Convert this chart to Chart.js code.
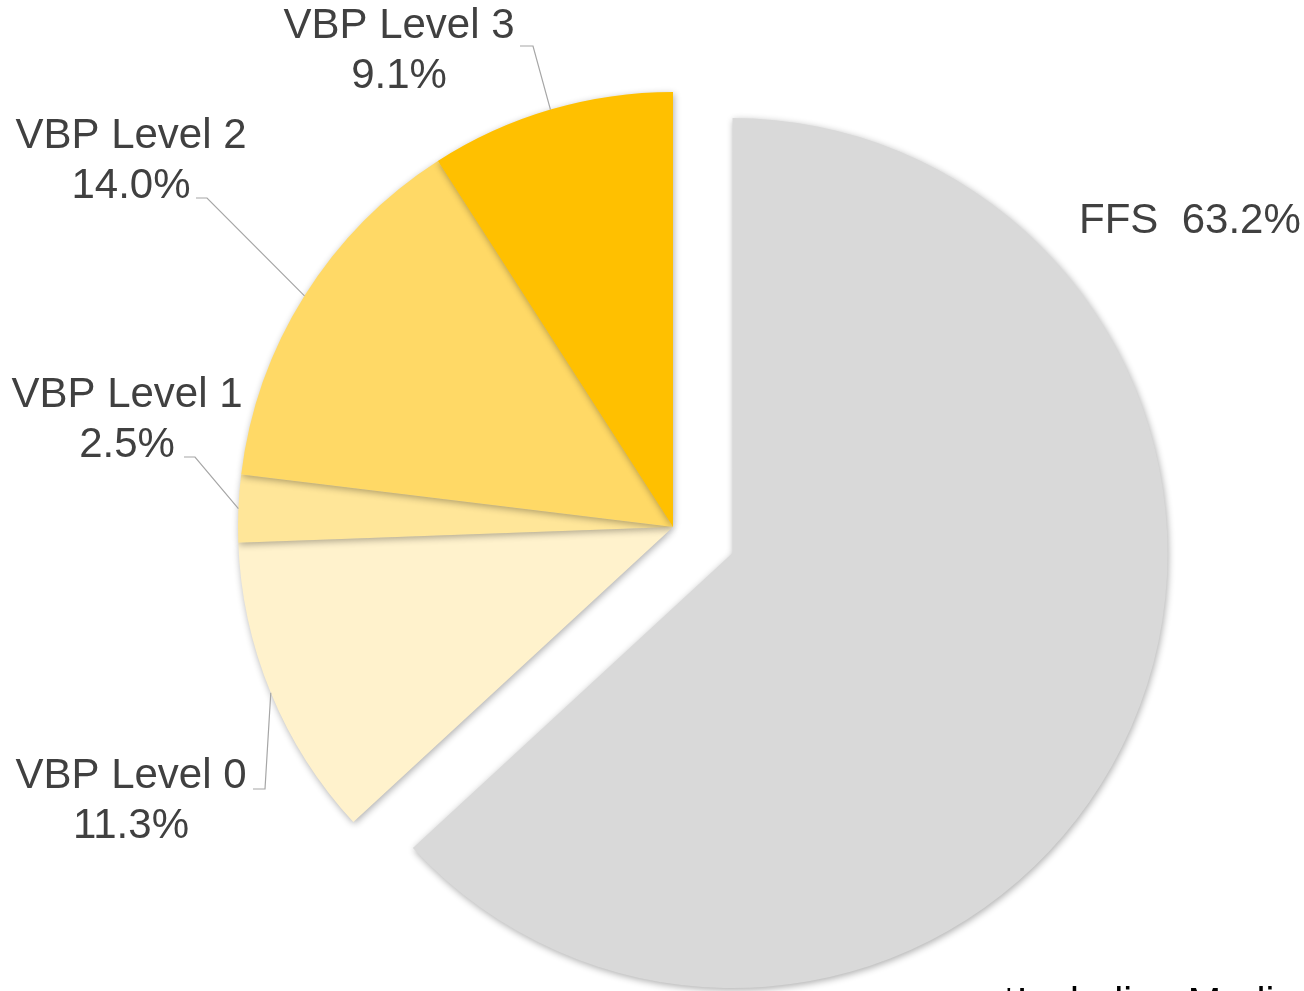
<!DOCTYPE html>
<html>
<head>
<meta charset="utf-8">
<script src="https://cdn.jsdelivr.net/npm/chart.js@4"></script>
<style>
  html, body { margin: 0; padding: 0; background: #ffffff; overflow: hidden; }
  #c { display: block; }
</style>
</head>
<body>
<canvas id="c" width="1304" height="991"></canvas>
<script>
// ---- data ----
const categories = ['FFS', 'VBP Level 0', 'VBP Level 1', 'VBP Level 2', 'VBP Level 3'];
const shares = [63.2, 11.3, 2.5, 14.0, 9.1];
const footnote = '*Including Medicaid';

// ---- styles / layout ----
const sliceColors = ['#D9D9D9', '#FFF2CC', '#FFE699', '#FFD966', '#FFC000'];
const sliceExplode = [65, 0, 0, 0, 0];   // px the slice is pulled out along its mid-angle
const pieRadius = 435;
const labelFont = '42px "Liberation Sans", Arial, sans-serif';
const labelColor = '#404040';
const leaderColor = '#A6A6A6';
// label text anchor (center x / baseline of first line) and leader elbow
const labelLayout = [
  { x: 1079, y: 233, align: 'left', inline: true },
  { x: 131, y: 788, elbow: [[253, 789], [265, 789]] },
  { x: 127, y: 407, elbow: [[184, 457], [195, 457]] },
  { x: 131, y: 148, elbow: [[196, 198], [207, 198]] },
  { x: 399, y: 38, elbow: [[520, 46], [533, 46]] }
];
const lineGap = 50;

// pull exploded slices out radially (keeps edges radial, radius unchanged)
const explodePlugin = {
  id: 'explode',
  afterDatasetUpdate(chart, args) {
    const meta = chart.getDatasetMeta(args.index);
    meta.data.forEach((arc, i) => {
      const d = sliceExplode[i] || 0;
      if (!d) return;
      const mid = (arc.startAngle + arc.endAngle) / 2;
      arc.x += Math.cos(mid) * d;
      arc.y += Math.sin(mid) * d;
    });
  }
};

const shadowPlugin = {
  id: 'shadow',
  beforeDatasetsDraw(chart) {
    const ctx = chart.ctx;
    ctx.save();
    ctx.shadowColor = 'rgba(0,0,0,0.32)';
    ctx.shadowBlur = 7;
    ctx.shadowOffsetX = 1;
    ctx.shadowOffsetY = 2;
  },
  afterDatasetsDraw(chart) {
    chart.ctx.restore();
  }
};

const labelPlugin = {
  id: 'labels',
  afterDatasetsDraw(chart) {
    const ctx = chart.ctx;
    const meta = chart.getDatasetMeta(0);
    ctx.save();
    ctx.font = labelFont;
    ctx.fillStyle = labelColor;
    ctx.textBaseline = 'alphabetic';
    meta.data.forEach((arc, i) => {
      const lay = labelLayout[i];
      const pct = shares[i].toFixed(1) + '%';
      if (lay.inline) {
        ctx.textAlign = lay.align || 'left';
        ctx.fillText(categories[i] + '  ' + pct, lay.x, lay.y);
      } else {
        ctx.textAlign = 'center';
        ctx.fillText(categories[i], lay.x, lay.y);
        ctx.fillText(pct, lay.x, lay.y + lineGap);
      }
      if (lay.elbow) {
        const mid = (arc.startAngle + arc.endAngle) / 2;
        const ex = arc.x + Math.cos(mid) * arc.outerRadius;
        const ey = arc.y + Math.sin(mid) * arc.outerRadius;
        ctx.beginPath();
        ctx.strokeStyle = leaderColor;
        ctx.lineWidth = 1.2;
        ctx.moveTo(lay.elbow[0][0], lay.elbow[0][1]);
        ctx.lineTo(lay.elbow[1][0], lay.elbow[1][1]);
        ctx.lineTo(ex, ey);
        ctx.stroke();
      }
    });
    // footnote (cut off at bottom edge)
    ctx.fillStyle = '#000000';
    ctx.textAlign = 'left';
    ctx.font = '40px "Liberation Sans", Arial, sans-serif';
    ctx.fillText(footnote, 1001, 1016);
    ctx.restore();
  }
};

new Chart(document.getElementById('c'), {
  type: 'pie',
  data: {
    labels: categories,
    datasets: [{
      data: shares,
      backgroundColor: sliceColors,
      borderWidth: 0,
      hoverOffset: 0
    }]
  },
  options: {
    responsive: false,
    animation: false,
    devicePixelRatio: 1,
    events: [],
    radius: pieRadius,
    layout: { padding: { left: 42, right: 0, top: 63, bottom: 0 } },
    plugins: {
      legend: { display: false },
      tooltip: { enabled: false },
      title: { display: false }
    }
  },
  plugins: [explodePlugin, shadowPlugin, labelPlugin]
});
</script>
</body>
</html>
